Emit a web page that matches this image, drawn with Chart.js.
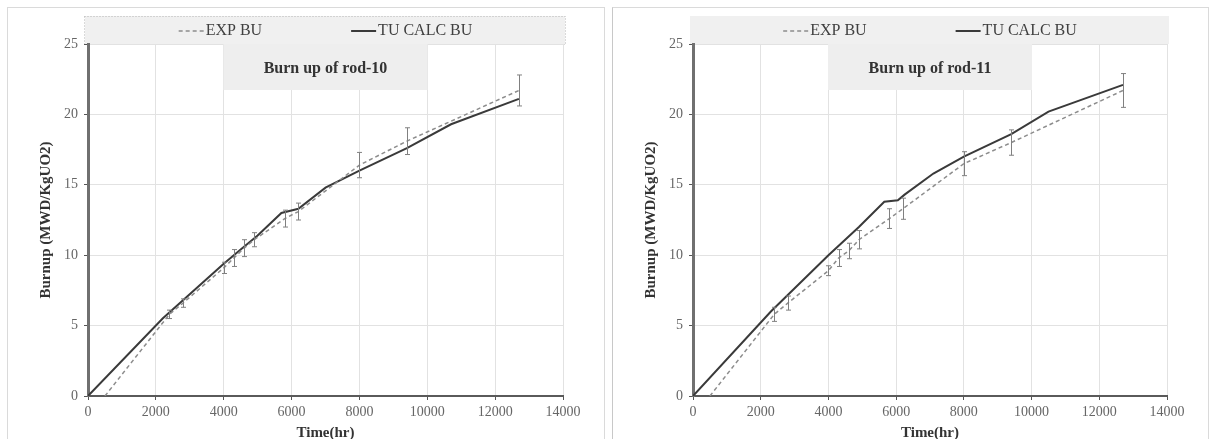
<!DOCTYPE html>
<html>
<head>
<meta charset="utf-8">
<script src="https://cdn.jsdelivr.net/npm/chart.js@4.4.0/dist/chart.umd.min.js"></script>
<style>
  html, body { margin: 0; padding: 0; background: #fff; overflow: hidden; }
  body { width: 1211px; height: 439px; position: relative; }
  .panel { position: absolute; top: 7px; height: 450px; border: 1px solid #dadada; box-sizing: border-box; }
  #p10 { left: 7px; width: 598px; }
  #p11 { left: 612px; width: 597px; border-left-color: #c8c8c8; }
  .panel canvas { position: absolute; left: 0; top: 0; }
</style>
</head>
<body>
<div class="panel" id="p10"><canvas id="rod10" width="596" height="437"></canvas></div>
<div class="panel" id="p11"><canvas id="rod11" width="594" height="437"></canvas></div>
<script>
// ─── data ───
const xTicks = [0, 2000, 4000, 6000, 8000, 10000, 12000, 14000];
const yTicks = [0, 5, 10, 15, 20, 25];

// rod-10
const calc10X = [0, 2200, 4000, 4500, 5000, 5700, 6200, 7000, 8000, 9400, 10700, 12700];
const calc10Y = [0, 5.5, 9.4, 10.4, 11.4, 13.0, 13.3, 14.8, 16.0, 17.6, 19.3, 21.1];
const exp10X = [500, 2400, 2800, 4000, 4300, 4600, 4900, 5800, 6200, 8000, 9400, 12700];
const exp10Y = [0, 5.8, 6.6, 9.1, 9.8, 10.5, 11.1, 12.6, 13.1, 16.4, 18.1, 21.7];
const exp10Err = [0, 0.3, 0.3, 0.4, 0.6, 0.6, 0.5, 0.6, 0.6, 0.9, 0.95, 1.1];

// rod-11
const calc11X = [0, 2300, 4000, 4900, 5650, 6050, 6250, 7100, 8000, 9400, 10500, 12700];
const calc11Y = [0, 6.0, 10.0, 12.0, 13.8, 13.9, 14.3, 15.8, 17.0, 18.6, 20.2, 22.1];
const exp11X = [500, 2400, 2800, 4000, 4300, 4600, 4900, 5800, 6200, 8000, 9400, 12700];
const exp11Y = [0, 5.8, 6.6, 8.9, 9.8, 10.3, 11.1, 12.6, 13.3, 16.5, 18.0, 21.7];
const exp11Err = [0, 0.5, 0.5, 0.35, 0.6, 0.55, 0.65, 0.7, 0.75, 0.85, 0.9, 1.2];

const SERIF = '"Liberation Serif", "DejaVu Serif", serif';

const toPoints = (xs, ys) => xs.map((x, i) => ({ x: x, y: ys[i] }));

// grey band with the legend above the plot
const makeBandLegend = (dotted) => ({
    id: 'bandLegend',
    beforeDraw(chart) {
        const { ctx, chartArea: a } = chart;
        const h = 28;
        const top = a.top - h;
        ctx.save();
        ctx.fillStyle = '#f0f0f0';
        ctx.fillRect(a.left - 3, top, a.right - a.left + 5, h);
        if (dotted) {
            ctx.setLineDash([1, 2]);
            ctx.strokeStyle = '#b4b4b4';
            ctx.lineWidth = 1;
            ctx.strokeRect(a.left - 3.5, top + 0.5, a.right - a.left + 6, h);
        }
        ctx.font = '16px ' + SERIF;
        const sample = 25;
        const items = chart.data.datasets.map(ds => ({ ds: ds, w: sample + 2 + ctx.measureText(ds.label).width }));
        const gap = 89;
        const total = items.reduce((s, it) => s + it.w, 0) + gap * (items.length - 1);
        let x = (a.left + a.right) / 2 - total / 2;
        const y = top + h / 2 + 1;
        items.forEach(it => {
            ctx.beginPath();
            ctx.setLineDash(it.ds.borderDash || []);
            ctx.strokeStyle = it.ds.borderColor;
            ctx.lineWidth = it.ds.borderWidth;
            ctx.moveTo(x, y);
            ctx.lineTo(x + sample, y);
            ctx.stroke();
            ctx.setLineDash([]);
            ctx.fillStyle = '#404040';
            ctx.textAlign = 'left';
            ctx.textBaseline = 'middle';
            ctx.fillText(it.ds.label, x + sample + 2, y);
            x += it.w + gap;
        });
        ctx.restore();
    }
});

// title in a grey box at the top of the plot
const makeTitleBox = (text) => ({
    id: 'titleBox',
    beforeDatasetsDraw(chart) {
        const { ctx, chartArea: a } = chart;
        const cx = (a.left + a.right) / 2;
        ctx.save();
        ctx.fillStyle = '#eeeeee';
        ctx.fillRect(cx - 102, a.top, 204, 46);
        ctx.font = 'bold 16px ' + SERIF;
        ctx.fillStyle = '#333333';
        ctx.textAlign = 'center';
        ctx.textBaseline = 'middle';
        ctx.fillText(text, cx, a.top + 25);
        ctx.restore();
    }
});

// vertical error bars on the experimental series
const makeErrorBars = (xs, ys, errs) => ({
    id: 'errorBars',
    afterDatasetsDraw(chart) {
        const { ctx, scales } = chart;
        ctx.save();
        ctx.strokeStyle = '#808080';
        ctx.lineWidth = 1;
        xs.forEach((t, i) => {
            if (!errs[i]) return;
            const px = Math.round(scales.x.getPixelForValue(t)) + 0.5;
            const lo = scales.y.getPixelForValue(ys[i] - errs[i]);
            const hi = scales.y.getPixelForValue(ys[i] + errs[i]);
            ctx.beginPath();
            ctx.moveTo(px, lo);
            ctx.lineTo(px, hi);
            ctx.moveTo(px - 2.5, lo);
            ctx.lineTo(px + 2.5, lo);
            ctx.moveTo(px - 2.5, hi);
            ctx.lineTo(px + 2.5, hi);
            ctx.stroke();
        });
        ctx.restore();
    }
});

const drawRod = (id, title, calcX, calcY, expX, expY, expErr, dotted, padRight) => {
    const ctx = document.getElementById(id);
    new Chart(ctx, {
        type: 'line',
        data: {
            datasets: [{
                label: 'EXP BU',
                data: toPoints(expX, expY),
                borderColor: '#8c8c8c',
                borderWidth: 1.5,
                borderDash: [4, 3],
                pointRadius: 0,
                tension: 0
            }, {
                label: 'TU CALC BU',
                data: toPoints(calcX, calcY),
                borderColor: '#3a3a3a',
                borderWidth: 2,
                pointRadius: 0,
                tension: 0
            }]
        },
        options: {
            responsive: false,
            animation: false,
            events: [],
            layout: {
                padding: { left: 25, right: padRight, top: 36, bottom: 0 }
            },
            plugins: {
                legend: { display: false },
                tooltip: { enabled: false }
            },
            scales: {
                x: {
                    type: 'linear',
                    min: 0,
                    max: 14000,
                    afterBuildTicks: (s) => { s.ticks = xTicks.map(v => ({ value: v })); },
                    afterFit: (s) => { s.height = 49; },
                    ticks: {
                        color: '#666666',
                        padding: 4,
                        maxRotation: 0,
                        font: { family: SERIF, size: 14 },
                        callback: (v) => String(v)
                    },
                    grid: { color: '#e2e2e2', tickColor: '#555', tickLength: 4 },
                    border: { color: '#5a5a5a', width: 2 },
                    title: {
                        display: true,
                        text: 'Time(hr)',
                        color: '#333',
                        padding: { top: 0, bottom: 3 },
                        font: { family: SERIF, size: 15, weight: 'bold' }
                    }
                },
                y: {
                    min: 0,
                    max: 25,
                    afterBuildTicks: (s) => { s.ticks = yTicks.map(v => ({ value: v })); },
                    afterFit: (s) => { s.width = 55; },
                    ticks: {
                        color: '#666666',
                        padding: 6,
                        font: { family: SERIF, size: 14 },
                        callback: (v) => String(v)
                    },
                    grid: { color: '#e2e2e2', tickColor: '#555', tickLength: 4 },
                    border: { color: '#707070', width: 3 },
                    title: {
                        display: true,
                        text: 'Burnup (MWD/KgUO2)',
                        color: '#333',
                        padding: { top: 4, bottom: 4 },
                        font: { family: SERIF, size: 15, weight: 'bold' }
                    }
                }
            }
        },
        plugins: [makeBandLegend(dotted), makeTitleBox(title), makeErrorBars(expX, expY, expErr)]
    });
};

document.addEventListener('DOMContentLoaded', () => {
    drawRod('rod10', 'Burn up of rod-10', calc10X, calc10Y, exp10X, exp10Y, exp10Err, true, 41);
    drawRod('rod11', 'Burn up of rod-11', calc11X, calc11Y, exp11X, exp11Y, exp11Err, false, 40);
});
</script>
</body>
</html>
